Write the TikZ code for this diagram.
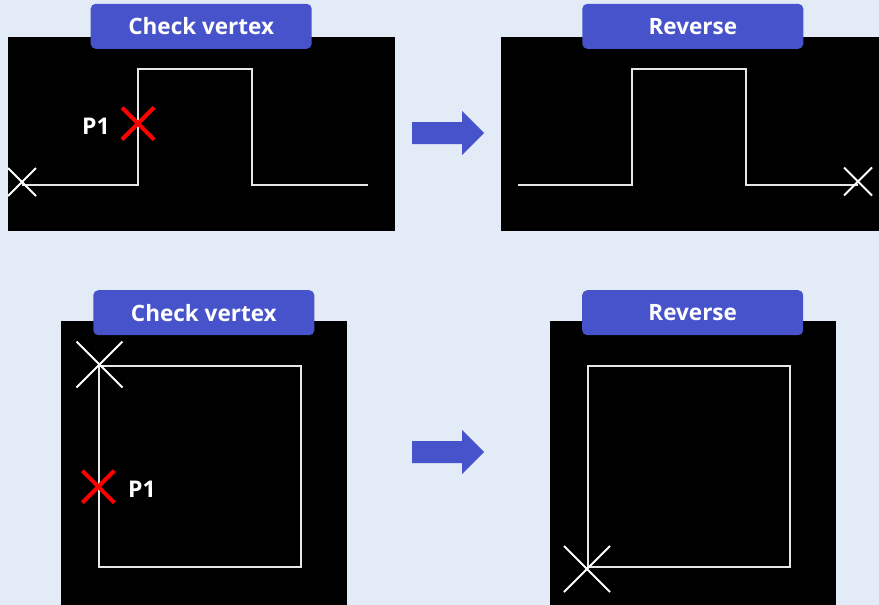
\documentclass[tikz,border=0pt]{standalone}
\usepackage{fontspec}
\setmainfont{Open Sans}
\definecolor{bg}{HTML}{E3EBF6}
\definecolor{tagblue}{HTML}{4753CB}
\definecolor{wire}{HTML}{E6E6E6}
\tikzset{
  panel/.style={fill=black},
  tag/.style={fill=tagblue, rounded corners=5pt, minimum width=221pt, minimum height=45pt,
              inner sep=0pt, text=white, font=\bfseries\fontsize{22.5}{26}\selectfont},
  wireline/.style={draw=wire, line width=1.8pt},
  whitecross/.style={draw=white, line width=1.8pt},
  redcross/.style={draw=red, line width=4pt},
  plabel/.style={text=white, font=\bfseries\fontsize{23}{26}\selectfont, inner sep=0pt},
  blockarrow/.style={fill=tagblue}
}
% cross mark: centre x, centre y, half size, style
\newcommand{\xcross}[4]{%
  \draw[#4] (#1-#3,#2-#3) -- (#1+#3,#2+#3);
  \draw[#4] (#1-#3,#2+#3) -- (#1+#3,#2-#3);
}
\begin{document}
\begin{tikzpicture}[x=1pt,y=-1pt]
\fill[bg] (0,0) rectangle (879,605);
\useasboundingbox (0,0) rectangle (879,605);

% black panels
\fill[panel] (8,37) rectangle (395,231);
\fill[panel] (501,37) rectangle (879,231);
\fill[panel] (61,321) rectangle (347,605);
\fill[panel] (550,321) rectangle (836,605);

% top row: open step polyline
\draw[wireline] (22,185) -- (138,185) -- (138,69) -- (252,69) -- (252,185) -- (368,185);
\xcross{22}{182}{14}{whitecross}
\xcross{138}{123.5}{16}{redcross}
\node[plabel] (p1a) at (96,126) {P1};

\draw[wireline] (518,185) -- (632,185) -- (632,69) -- (746,69) -- (746,185) -- (858,185);
\xcross{858}{181.5}{14}{whitecross}

% bottom row: closed square
\draw[wireline, line width=1.5pt] (99,366) rectangle (301,567);
\xcross{99.5}{364.5}{23}{whitecross}
\xcross{98.3}{486.7}{16}{redcross}
\node[plabel] (p1b) at (142,489) {P1};

\draw[wireline, line width=1.5pt] (588,366) rectangle (790,567);
\xcross{587}{569}{23}{whitecross}

% titles
\node[tag] (t1) at (201.2,26.3) {Check vertex};
\node[tag] (t2) at (692.8,26.3) {Reverse};
\node[tag] (t3) at (203.8,312.7) {Check vertex};
\node[tag] (t4) at (692.7,312.7) {Reverse};

% block arrows
\fill[blockarrow] (412,122) -- (462,122) -- (462,111) -- (484,133) -- (462,155) -- (462,144) -- (412,144) -- cycle;
\fill[blockarrow] (412,441) -- (462,441) -- (462,430) -- (484,452) -- (462,474) -- (462,463) -- (412,463) -- cycle;
\end{tikzpicture}
\end{document}
